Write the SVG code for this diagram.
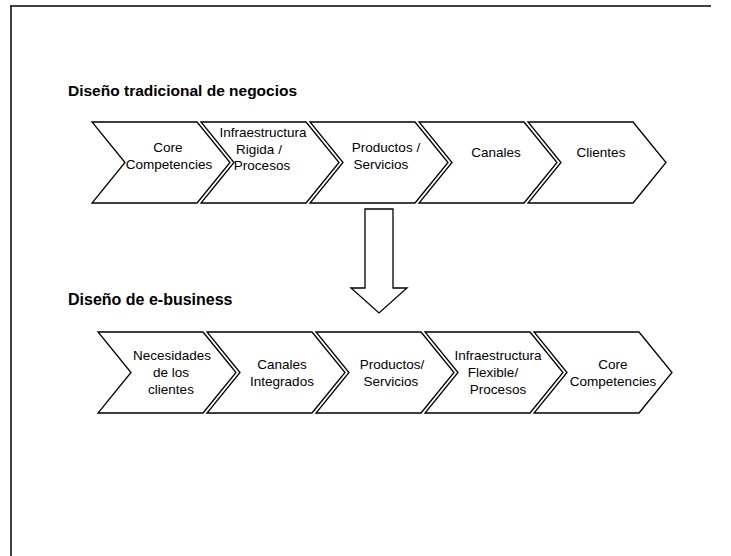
<svg xmlns="http://www.w3.org/2000/svg" width="731" height="556" viewBox="0 0 731 556">
  <style>
    .frame { stroke: #000; stroke-width: 1.5; fill: none; }
    .chev { fill: #fff; stroke: #000; stroke-width: 1.3; stroke-linejoin: miter; }
    .arrow { fill: #fff; stroke: #000; stroke-width: 1.3; }
    .title { font-family: "Liberation Sans", Arial, sans-serif; font-weight: bold; fill: #000; }
    .lbl { font-family: "Liberation Sans", Arial, sans-serif; font-size: 13.5px; fill: #000; text-anchor: middle; }
  </style>
  <defs>
    <!-- chevron outline, origin at its top-left corner, 81 px tall -->
    <polygon id="chevron" points="0,0 105,0 138,40.5 105,81 0,81 33,40.5"/>
  </defs>

  <!-- page border -->
  <g id="border">
    <line class="frame" x1="10" y1="6" x2="711" y2="6"/>
    <line class="frame" x1="11" y1="6" x2="11" y2="556"/>
  </g>

  <!-- traditional business design -->
  <text class="title" x="68" y="96" font-size="15.5">Diseño tradicional de negocios</text>

  <g id="t1"><use href="#chevron" class="chev" x="92" y="122"/>
    <text class="lbl"><tspan x="168" y="152">Core</tspan><tspan x="169" y="169">Competencies</tspan></text></g>
  <g id="t2"><use href="#chevron" class="chev" x="201" y="122"/>
    <text class="lbl"><tspan x="263" y="137">Infraestructura</tspan><tspan x="259" y="153.5">Rigida /</tspan><tspan x="262" y="170">Procesos</tspan></text></g>
  <g id="t3"><use href="#chevron" class="chev" x="310" y="122"/>
    <text class="lbl"><tspan x="386" y="152">Productos /</tspan><tspan x="381" y="169">Servicios</tspan></text></g>
  <g id="t4"><use href="#chevron" class="chev" x="419" y="122"/>
    <text class="lbl" x="496" y="157">Canales</text></g>
  <g id="t5"><use href="#chevron" class="chev" x="528" y="122"/>
    <text class="lbl" x="601" y="157">Clientes</text></g>

  <!-- transition arrow -->
  <g id="connectors">
    <polygon class="arrow" points="365,209 393,209 393,288 407,288 379,313 351,288 365,288"/>
  </g>

  <!-- e-business design -->
  <text class="title" x="68" y="305" font-size="16">Diseño de e-business</text>

  <g id="e1"><use href="#chevron" class="chev" x="98" y="332"/>
    <text class="lbl"><tspan x="172" y="360">Necesidades</tspan><tspan x="171" y="377">de los</tspan><tspan x="171" y="394">clientes</tspan></text></g>
  <g id="e2"><use href="#chevron" class="chev" x="207" y="332"/>
    <text class="lbl"><tspan x="282" y="369">Canales</tspan><tspan x="282" y="386">Integrados</tspan></text></g>
  <g id="e3"><use href="#chevron" class="chev" x="316" y="332"/>
    <text class="lbl"><tspan x="392" y="369">Productos/</tspan><tspan x="391" y="386">Servicios</tspan></text></g>
  <g id="e4"><use href="#chevron" class="chev" x="425" y="332"/>
    <text class="lbl"><tspan x="498" y="360">Infraestructura</tspan><tspan x="493" y="377">Flexible/</tspan><tspan x="498" y="394">Procesos</tspan></text></g>
  <g id="e5"><use href="#chevron" class="chev" x="534" y="332"/>
    <text class="lbl"><tspan x="613" y="369">Core</tspan><tspan x="613" y="386">Competencies</tspan></text></g>
</svg>
